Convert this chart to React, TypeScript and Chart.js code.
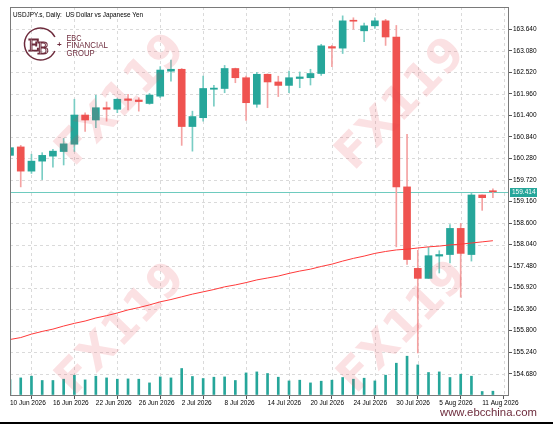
import React, { useEffect, useRef } from "react";
import { Chart, registerables } from "chart.js";

Chart.register(...registerables);

// ---- data ----
const dates = [
  "10 Jun 2026", "11 Jun 2026", "12 Jun 2026", "15 Jun 2026", "16 Jun 2026", "17 Jun 2026", "18 Jun 2026", "19 Jun 2026",
  "22 Jun 2026", "23 Jun 2026", "24 Jun 2026", "25 Jun 2026", "26 Jun 2026", "29 Jun 2026", "30 Jun 2026",
  "1 Jul 2026", "2 Jul 2026", "3 Jul 2026", "6 Jul 2026", "7 Jul 2026", "8 Jul 2026", "9 Jul 2026", "10 Jul 2026",
  "13 Jul 2026", "14 Jul 2026", "15 Jul 2026", "16 Jul 2026", "17 Jul 2026", "20 Jul 2026", "21 Jul 2026",
  "22 Jul 2026", "23 Jul 2026", "24 Jul 2026", "27 Jul 2026", "28 Jul 2026", "29 Jul 2026", "30 Jul 2026",
  "31 Jul 2026", "3 Aug 2026", "4 Aug 2026", "5 Aug 2026", "6 Aug 2026", "7 Aug 2026", "10 Aug 2026",
  "11 Aug 2026", "12 Aug 2026",
];

const opens = [
  160.36, 160.58, 159.95, 160.21, 160.34, 160.46, 160.65, 161.41, 161.28, 161.60,
  161.56, 161.83, 161.80, 161.71, 161.90, 162.55, 162.60, 161.11, 161.34, 162.08,
  162.10, 162.62, 162.38, 161.69, 162.47, 162.27, 162.18, 162.36, 162.38, 162.49,
  163.19, 163.15, 163.86, 163.60, 163.73, 163.86, 163.44, 159.54, 157.42, 157.16,
  157.74, 157.78, 158.46, 157.78, 159.33, 159.42,
];
const highs = [
  160.62, 160.62, 160.39, 160.43, 160.52, 160.80, 161.82, 161.47, 161.92, 161.75,
  161.84, 161.95, 161.86, 161.97, 162.67, 162.84, 162.62, 161.51, 162.42, 162.18,
  162.70, 162.63, 162.42, 162.52, 162.48, 162.42, 162.55, 162.53, 162.60, 163.25,
  163.22, 163.99, 163.94, 163.80, 163.94, 163.90, 163.74, 160.91, 157.89, 157.97,
  157.88, 158.56, 158.59, 159.37, 159.33, 159.49,
];
const lows = [
  160.30, 159.54, 159.89, 159.73, 160.05, 160.11, 160.46, 160.98, 161.08, 161.25,
  161.47, 161.54, 161.51, 161.69, 161.86, 162.29, 160.62, 160.47, 161.25, 161.64,
  161.99, 162.25, 161.27, 161.61, 161.60, 161.89, 161.99, 162.12, 162.19, 162.44,
  162.67, 163.01, 163.64, 163.32, 163.66, 163.22, 157.98, 157.52, 155.22, 157.16,
  157.30, 157.56, 156.67, 157.61, 158.93, 159.26,
];
const closes = [
  160.56, 159.95, 160.21, 160.36, 160.47, 160.66, 161.41, 161.28, 161.60, 161.56,
  161.82, 161.79, 161.76, 161.93, 162.58, 162.60, 161.11, 161.37, 162.10, 162.11,
  162.62, 162.38, 161.73, 162.47, 162.27, 162.18, 162.38, 162.40, 162.49, 163.21,
  163.15, 163.86, 163.85, 163.73, 163.86, 163.44, 159.54, 157.65, 157.16, 157.75,
  157.78, 158.46, 157.81, 159.33, 159.26, 159.414,
];
const volumes = [
  150, 166, 183, 140, 140, 153, 193, 146, 183, 166,
  153, 156, 153, 116, 176, 166, 260, 180, 160, 173,
  176, 140, 216, 226, 210, 173, 136, 143, 116, 133,
  143, 170, 153, 163, 136, 193, 313, 383, 296, 220,
  226, 170, 203, 183, 30, 33,
];
const movingAverage = [
  155.57, 155.62, 155.71, 155.78, 155.84, 155.92, 155.99, 156.05, 156.13, 156.19,
  156.26, 156.34, 156.40, 156.47, 156.55, 156.61, 156.68, 156.75, 156.81, 156.87,
  156.94, 156.99, 157.05, 157.12, 157.17, 157.22, 157.29, 157.35, 157.40, 157.47,
  157.53, 157.61, 157.68, 157.74, 157.81, 157.86, 157.90, 157.92, 157.95, 157.98,
  158.00, 158.03, 158.05, 158.08, 158.11, 158.14,
];
const priceTicks = [
  163.64, 163.08, 162.52, 161.96, 161.40, 160.84, 160.28, 159.72, 159.16,
  158.60, 158.04, 157.48, 156.92, 156.36, 155.80, 155.24, 154.68,
];
const lastPrice = 159.414;
const titleText = "USDJPY.s, Daily:  US Dollar vs Japanese Yen";
const watermarkText = "FX119";
const siteText = "www.ebcchina.com";

// ---- styles ----
const UP = "#26a69a";
const DOWN = "#ef5350";
const UP_WICK = "#79cdc4";
const DOWN_WICK = "#f4a2a2";
const MAROON = "#6d2b3c";
const FONT = "'Liberation Sans', Arial, sans-serif";

function fitText(ctx: CanvasRenderingContext2D, text: string, x: number, y: number, w: number, font: string) {
  ctx.save();
  ctx.font = font;
  const m = ctx.measureText(text).width || 1;
  ctx.translate(x, y);
  ctx.scale(w / m, 1);
  ctx.fillText(text, 0, 0);
  ctx.restore();
}

const decoPlugin = {
  id: "deco",
  beforeDatasetsDraw(chart: any) {
    const { ctx, chartArea: a, scales } = chart;
    const x = scales.x;
    const y = scales.y;
    ctx.save();
    ctx.lineWidth = 1;
    ctx.strokeStyle = "#dadada";
    ctx.setLineDash([3, 3]);
    for (const t of priceTicks) {
      const py = Math.round(y.getPixelForValue(t)) + 0.5;
      ctx.beginPath();
      ctx.moveTo(a.left, py);
      ctx.lineTo(a.right, py);
      ctx.stroke();
    }
    for (let i = 2; i <= dates.length; i += 4) {
      const px = Math.round(x.getPixelForValue(i)) + 0.5;
      ctx.beginPath();
      ctx.moveTo(px, a.top);
      ctx.lineTo(px, a.bottom);
      ctx.stroke();
    }
    ctx.setLineDash([]);
    const py = Math.round(y.getPixelForValue(lastPrice)) + 0.5;
    ctx.strokeStyle = "#6ecbbf";
    ctx.beginPath();
    ctx.moveTo(a.left, py);
    ctx.lineTo(a.right, py);
    ctx.stroke();
    ctx.restore();
  },
  afterDatasetsDraw(chart: any) {
    const { ctx } = chart;
    const spots = [
      [122, 101],
      [402, 105],
      [122, 330],
      [404, 328],
    ];
    ctx.save();
    ctx.fillStyle = "rgba(232, 70, 80, 0.16)";
    ctx.font = `bold 46px 'DejaVu Sans', sans-serif`;
    ctx.textAlign = "center";
    ctx.textBaseline = "middle";
    for (const [cx, cy] of spots) {
      ctx.save();
      ctx.translate(cx, cy);
      ctx.rotate(-0.8);
      ctx.fillText(watermarkText, 0, 0);
      ctx.restore();
    }
    ctx.restore();
  },
  afterDraw(chart: any) {
    const { ctx, chartArea: a, scales } = chart;
    const y = scales.y;
    ctx.save();
    // frame
    ctx.strokeStyle = "#7a7a7a";
    ctx.lineWidth = 1;
    ctx.strokeRect(Math.round(a.left) + 0.5, Math.round(a.top) + 0.5, Math.round(a.right - a.left) - 1, Math.round(a.bottom - a.top) - 1);

    // price label
    const py = Math.round(y.getPixelForValue(lastPrice));
    ctx.fillStyle = UP;
    ctx.fillRect(Math.round(a.right) + 1, py - 4, 27, 9);
    ctx.fillStyle = "#ffffff";
    ctx.font = `6.5px ${FONT}`;
    ctx.textBaseline = "middle";
    ctx.fillText(lastPrice.toFixed(3), Math.round(a.right) + 3, py + 0.5);

    // title
    ctx.fillStyle = "#000";
    ctx.textBaseline = "alphabetic";
    fitText(ctx, titleText, 13, 16.5, 130, `7px ${FONT}`);

    // logo
    ctx.strokeStyle = MAROON;
    ctx.fillStyle = MAROON;
    ctx.lineWidth = 1.5;
    ctx.beginPath();
    ctx.arc(40.5, 44, 16, 0.45, Math.PI * 2 - 0.45);
    ctx.stroke();
    ctx.lineWidth = 1;
    ctx.font = `16px 'DejaVu Serif', serif`;
    ctx.strokeText("E", 28, 51);
    ctx.strokeText("B", 37, 54);
    ctx.font = `bold 8px ${FONT}`;
    ctx.fillText("+", 57, 47);
    fitText(ctx, "EBC", 66.5, 40.5, 15, `9px ${FONT}`);
    fitText(ctx, "FINANCIAL", 66.5, 48, 41.5, `9px ${FONT}`);
    fitText(ctx, "GROUP", 66.5, 55.5, 28, `9px ${FONT}`);

    // site
    fitText(ctx, siteText, 440, 416, 97, `11px ${FONT}`);

    // bottom bar
    ctx.fillStyle = "#000";
    ctx.fillRect(0, 422, 553, 2);
    ctx.restore();
  },
};

export default function App() {
  const ref = useRef<HTMLCanvasElement | null>(null);

  useEffect(() => {
    const canvas = ref.current;
    if (!canvas) return;
    const up = opens.map((o, i) => closes[i] >= o);
    const chart = new Chart(canvas, {
      type: "bar",
      data: {
        datasets: [
          {
            type: "line",
            label: "MA",
            data: movingAverage.map((v, i) => ({ x: i, y: v })),
            borderColor: "#ff3a3a",
            borderWidth: 1,
            pointRadius: 0,
            tension: 0,
            order: 0,
            yAxisID: "y",
          } as any,
          {
            type: "bar",
            label: "body",
            data: opens.map((o, i) => ({ x: i, y: [o, closes[i]] })),
            backgroundColor: up.map((u) => (u ? UP : DOWN)),
            barThickness: 7,
            grouped: false,
            minBarLength: 1,
            order: 1,
            yAxisID: "y",
          } as any,
          {
            type: "bar",
            label: "wick",
            data: lows.map((l, i) => ({ x: i, y: [l, highs[i]] })),
            backgroundColor: up.map((u) => (u ? UP_WICK : DOWN_WICK)),
            barThickness: 1,
            grouped: false,
            order: 2,
            yAxisID: "y",
          } as any,
          {
            type: "bar",
            label: "volume",
            data: volumes.map((v, i) => ({ x: i, y: v })),
            backgroundColor: UP,
            barThickness: 2,
            grouped: false,
            order: 3,
            yAxisID: "yv",
          } as any,
        ],
      },
      options: {
        animation: false,
        responsive: false,
        devicePixelRatio: 1,
        layout: { padding: { top: 7, left: 10, right: 0, bottom: 0 } },
        plugins: { legend: { display: false }, tooltip: { enabled: false } },
        scales: {
          x: {
            type: "linear",
            min: 0,
            max: 46.5,
            position: "bottom",
            offset: false,
            afterBuildTicks: (s: any) => {
              s.ticks = dates.map((_, i) => i).filter((i) => i % 4 === 0).map((v) => ({ value: v }));
            },
            afterFit: (s: any) => {
              s.height = 28;
              s.paddingLeft = 0;
              s.paddingRight = 0;
            },
            ticks: {
              autoSkip: false,
              maxRotation: 0,
              minRotation: 0,
              align: "start",
              padding: 0,
              color: "#000",
              font: { size: 6.5, family: FONT },
              callback: (v: any) => dates[Number(v)] ?? "",
            },
            grid: { drawOnChartArea: false, drawTicks: true, tickLength: 3, color: "#555" },
            border: { display: false },
          },
          y: {
            type: "linear",
            position: "right",
            min: 154.1,
            max: 164.22,
            afterBuildTicks: (s: any) => {
              s.ticks = priceTicks.map((v) => ({ value: v }));
            },
            afterFit: (s: any) => {
              s.width = 44;
              s.paddingTop = 0;
              s.paddingBottom = 0;
            },
            ticks: {
              autoSkip: false,
              padding: 1,
              color: "#000",
              font: { size: 6.5, family: FONT },
              callback: (v: any) => Number(v).toFixed(3),
            },
            grid: { drawOnChartArea: false, drawTicks: true, tickLength: 3, color: "#555" },
            border: { display: false },
          },
          yv: {
            type: "linear",
            display: false,
            min: -15,
            max: 3875,
          },
        },
      } as any,
      plugins: [decoPlugin],
    });
    return () => chart.destroy();
  }, []);

  return (
    <div style={{ position: "absolute", left: 0, top: 0, width: 553, height: 424, background: "#fff" }}>
      <canvas ref={ref} width={553} height={424} style={{ display: "block", width: 553, height: 424 }} />
    </div>
  );
}
